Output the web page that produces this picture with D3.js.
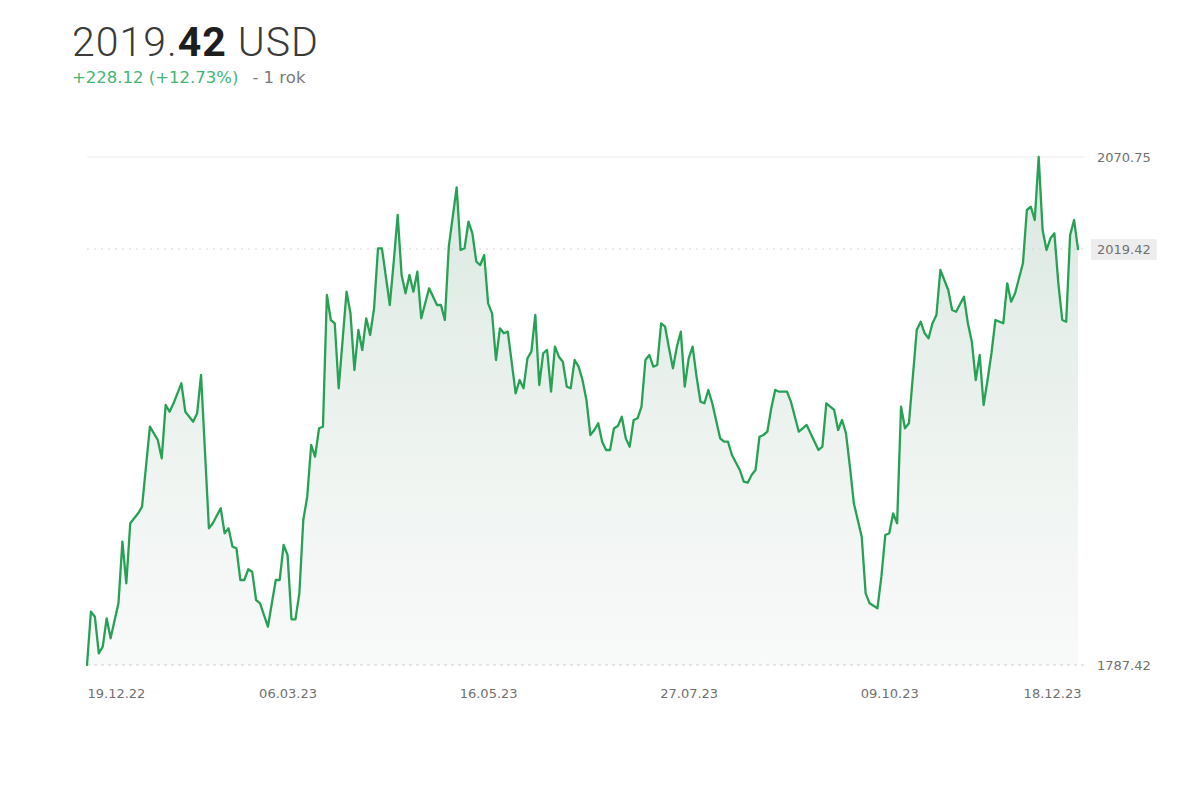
<!DOCTYPE html>
<html>
<head>
<meta charset="utf-8">
<script src="https://cdn.jsdelivr.net/npm/d3@7"></script>
<style>
  html, body { margin: 0; padding: 0; background: #fff; }
  svg { display: block; }
</style>
</head>
<body>
<svg id="chart" width="1194" height="794"></svg>
<script>
// ---- data (session number within the year, closing price in USD) ----
const sessions = [0,1,2,3,4,5,6,8,9,10,11,13,14,16,18,19,20,21,22,24,25,27,28,29,31,32,34,35,36,37,38,39,40,41,42,43,44,46,48,49,50,51,52,53,54,55,56,57,58,59,60,61,62,63,64,66,67,68,69,70,71,72,73,74,75,77,78,79,80,81,82,83,84,85,87,89,90,91,92,94,95,96,97,98,99,100,101,102,103,104,105,106,107,109,110,111,112,113,114,115,116,117,118,119,120,121,122,123,124,125,126,127,128,129,130,131,132,133,134,135,136,137,138,139,140,141,142,143,144,145,146,147,148,149,150,151,152,153,154,155,156,157,158,159,161,162,163,164,166,167,168,169,170,171,172,173,174,175,176,178,179,181,182,183,186,187,188,190,191,192,193,194,195,197,198,199,201,202,203,204,205,206,207,208,209,211,212,213,214,215,216,217,219,220,221,223,224,225,226,227,228,229,230,231,233,234,235,236,238,239,240,241,242,243,244,245,246,247,248,249,250,251,252];
const prices = [1787.42,1817.15,1814.36,1793.94,1797.63,1813.47,1802.31,1821.83,1856.19,1832.99,1866.45,1872.03,1875.71,1920.33,1912.91,1902.70,1932.43,1928.70,1933.38,1944.53,1928.70,1923.12,1927.80,1949.16,1863.66,1866.45,1874.82,1860.87,1863.66,1853.41,1852.51,1834.83,1834.83,1840.79,1839.46,1823.67,1821.83,1808.78,1834.83,1834.83,1854.35,1848.77,1812.91,1812.91,1827.41,1868.30,1881.29,1910.12,1903.60,1919.43,1920.33,1993.78,1979.84,1978.00,1941.75,1995.62,1983.57,1951.95,1974.26,1963.11,1980.79,1971.47,1986.36,2019.83,2019.83,1988.20,2012.35,2038.40,2004.94,1994.73,2004.94,1995.62,2006.78,1980.79,1997.52,1988.20,1988.20,1979.84,2020.72,2053.85,2018.88,2019.83,2034.66,2028.19,2012.35,2010.51,2016.09,1989.15,1983.57,1957.53,1975.21,1972.42,1973.32,1938.95,1946.37,1941.75,1958.48,1962.16,1982.63,1943.59,1961.27,1963.11,1939.85,1964.95,1959.37,1956.58,1942.64,1941.75,1957.53,1953.80,1946.37,1935.22,1915.70,1918.49,1922.23,1911.96,1907.34,1907.34,1919.43,1920.72,1925.91,1913.86,1909.18,1924.06,1925.01,1931.48,1957.53,1960.32,1953.80,1954.74,1978.00,1976.10,1964.06,1952.90,1964.95,1973.32,1942.64,1958.48,1964.95,1948.22,1934.27,1933.38,1940.80,1933.38,1913.86,1911.96,1911.96,1904.55,1896.18,1889.65,1889.10,1893.39,1896.18,1914.75,1915.70,1917.54,1930.59,1940.80,1939.85,1939.85,1934.27,1917.54,1919.43,1921.28,1907.34,1909.18,1933.38,1929.65,1918.49,1924.06,1916.65,1898.02,1877.61,1858.98,1827.41,1821.83,1819.04,1836.67,1859.93,1860.87,1872.03,1866.45,1931.48,1919.43,1922.23,1974.26,1978.90,1972.42,1969.63,1978.00,1982.63,2007.72,1996.57,1985.42,1984.47,1992.83,1978.00,1967.74,1946.37,1960.32,1932.43,1946.37,1961.43,1979.84,1978.00,2000.31,1990.05,1994.73,2011.46,2041.19,2043.03,2035.61,2070.75,2030.03,2018.88,2025.41,2028.19,2000.31,1979.84,1978.90,2027.25,2035.61,2019.42];

const tickSessions = [0, 51, 102, 153, 204, 255];
const tickLabels = ["19.12.22", "06.03.23", "16.05.23", "27.07.23", "09.10.23", "18.12.23"];

const levelValues = [2070.75, 2019.42, 1787.42];   // max, last, min
const lastPrice = "2019";
const lastDecimals = "42";
const currency = "USD";
const changeText = "+228.12 (+12.73%)";
const periodText = "- 1 rok";

(function draw() {
  const svg = d3.select("#chart");
  const pLeft = 87, pRight = 1078, pTop = 157, pBottom = 665;
  const labelFont = "'DejaVu Sans', Roboto, sans-serif";

  const x = d3.scaleLinear().domain([0, d3.max(sessions)]).range([pLeft, pRight]);
  const y = d3.scaleLinear().domain([d3.min(levelValues), d3.max(levelValues)]).range([pBottom, pTop]);

  const data = sessions.map((s, i) => ({ s, v: prices[i] }));

  // header
  const head = svg.append("text").attr("x", 72).attr("y", 56)
    .attr("font-family", "Roboto, sans-serif").attr("font-size", 41)
    .attr("letter-spacing", 1).attr("fill", "#3a3a3a");
  head.append("tspan").attr("font-weight", 300).text(lastPrice + ".");
  head.append("tspan").attr("font-weight", 700).attr("fill", "#1e1e1e").text(lastDecimals);
  head.append("tspan").attr("font-weight", 300).text(" " + currency);

  const sub = svg.append("text").attr("x", 72).attr("y", 83)
    .attr("font-family", labelFont).attr("font-size", 16.5);
  sub.append("tspan").attr("fill", "#45b574").text(changeText);
  sub.append("tspan").attr("fill", "#7a7a7a").attr("dx", 14).text(periodText);

  // gradient
  const defs = svg.append("defs");
  const grad = defs.append("linearGradient").attr("id", "fillGrad")
    .attr("x1", 0).attr("y1", 0).attr("x2", 0).attr("y2", 1);
  grad.append("stop").attr("offset", "0%").attr("stop-color", "#d7e6dd").attr("stop-opacity", 0.95);
  grad.append("stop").attr("offset", "100%").attr("stop-color", "#f4f6f5").attr("stop-opacity", 0.6);

  const lineRight = 1085;
  svg.append("line").attr("x1", pLeft).attr("x2", lineRight)
    .attr("y1", y(levelValues[0])).attr("y2", y(levelValues[0]))
    .attr("stroke", "#ececec").attr("stroke-width", 1);

  // area
  const area = d3.area().x(d => x(d.s)).y0(pBottom).y1(d => y(d.v));
  svg.append("path").datum(data).attr("d", area).attr("fill", "url(#fillGrad)");

  svg.append("line").attr("x1", pLeft).attr("x2", lineRight)
    .attr("y1", y(levelValues[1])).attr("y2", y(levelValues[1]))
    .attr("stroke", "#d4d4d4").attr("stroke-width", 1).attr("stroke-dasharray", "2,5");
  svg.append("line").attr("x1", pLeft).attr("x2", lineRight)
    .attr("y1", y(levelValues[2])).attr("y2", y(levelValues[2]))
    .attr("stroke", "#d0d0d0").attr("stroke-width", 1).attr("stroke-dasharray", "3,4");

  // line
  const line = d3.line().x(d => x(d.s)).y(d => y(d.v));
  svg.append("path").datum(data).attr("d", line)
    .attr("fill", "none").attr("stroke", "#27a155").attr("stroke-width", 2.3)
    .attr("stroke-linejoin", "round").attr("stroke-linecap", "round");

  // right axis labels
  const yAxis = d3.axisRight(y).tickValues(levelValues).tickSize(0).tickPadding(0)
    .tickFormat(d => d.toFixed(2));
  const ya = svg.append("g").attr("transform", "translate(1097,0)").call(yAxis);
  ya.select(".domain").remove();
  ya.selectAll("text").attr("font-family", labelFont).attr("font-size", 13)
    .attr("fill", "#707070").attr("dy", "0.35em");
  ya.selectAll(".tick").filter(d => d === levelValues[1]).each(function () {
    const t = d3.select(this).select("text");
    const bb = t.node().getBBox();
    d3.select(this).insert("rect", "text")
      .attr("x", bb.x - 6).attr("y", bb.y - 3).attr("width", bb.width + 12).attr("height", bb.height + 6)
      .attr("fill", "#ededed");
  });

  // bottom axis labels
  const xAxis = d3.axisBottom(x).tickValues(tickSessions).tickSize(0).tickPadding(0)
    .tickFormat((d, i) => tickLabels[i]);
  const xa = svg.append("g").attr("transform", `translate(0,${pBottom + 28})`).call(xAxis);
  xa.select(".domain").remove();
  xa.selectAll("text").attr("font-family", labelFont).attr("font-size", 13)
    .attr("fill", "#707070").attr("dy", "0.35em");
  const nT = tickSessions.length;
  xa.selectAll(".tick").each(function (d, i) {
    const t = d3.select(this).select("text");
    if (i === 0) t.attr("text-anchor", "start");
    if (i === nT - 1) {
      const over = x(d) - (pRight + 3);
      t.attr("text-anchor", "end").attr("x", -over);
    }
  });
})();
</script>
</body>
</html>
